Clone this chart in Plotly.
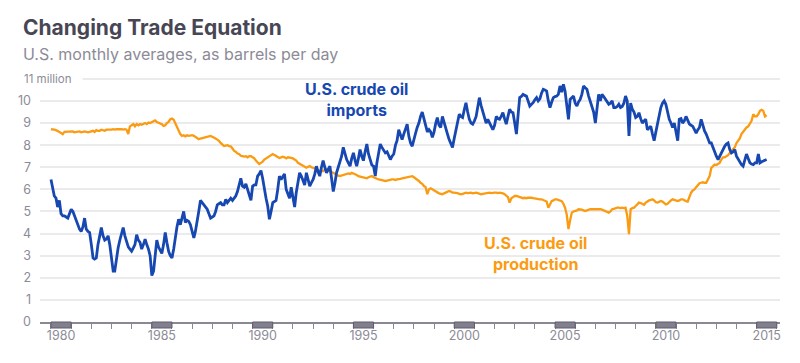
import pandas as pd
import plotly.graph_objects as go

# ---------------- data (million barrels per day, monthly from Jan 1980) ----------------
start_month = "1980-01-01"

imports = [
    6.45, 6.0, 5.7, 5.6, 5.2, 5.5, 4.9, 4.8, 4.8, 4.75, 4.7, 4.9,          # 1980
    5.1, 5.0, 4.8, 4.6, 4.35, 4.2, 4.1, 4.3, 4.7, 4.2, 4.1, 4.05,         # 1981
    3.5, 2.9, 2.85, 2.9, 3.5, 3.9, 4.27, 3.9, 3.7, 3.75, 3.9, 3.5,        # 1982
    2.8, 2.3, 2.3, 2.9, 3.35, 3.7, 4.0, 4.27, 3.9, 3.6, 3.4, 3.3,         # 1983
    3.2, 3.35, 3.5, 3.95, 3.7, 3.6, 3.3, 3.5, 3.75, 3.5, 3.3, 3.0,        # 1984
    2.1, 2.3, 2.9, 3.7, 3.4, 3.2, 3.1, 3.5, 4.05, 3.6, 3.2, 3.0,          # 1985
    2.9, 3.3, 3.9, 4.3, 4.65, 4.4, 4.7, 5.0, 4.5, 4.6, 4.55, 4.4,         # 1986
    4.1, 3.8, 4.1, 4.5, 5.0, 5.5, 5.4, 5.3, 5.2, 5.1, 4.9, 4.7,           # 1987
    4.75, 4.8, 5.0, 5.3, 5.35, 5.4, 5.3, 5.3, 5.55, 5.4, 5.5, 5.6,        # 1988
    5.5, 5.6, 5.7, 5.9, 6.15, 6.5, 6.15, 6.1, 6.25, 6.0, 5.85, 5.5,       # 1989
    6.15, 6.2, 6.2, 6.6, 6.7, 6.85, 6.5, 6.0, 5.6, 5.25, 4.65, 5.0,       # 1990
    5.4, 5.45, 5.5, 6.0, 6.6, 6.45, 6.6, 6.7, 6.0, 5.8, 5.6, 6.1,         # 1991
    5.6, 5.2, 5.85, 6.3, 6.75, 6.6, 6.4, 6.2, 6.75, 6.4, 6.15, 6.3,       # 1992
    6.45, 6.7, 7.05, 6.8, 6.6, 7.0, 7.3, 7.0, 6.75, 6.9, 7.05, 6.5,       # 1993
    5.9, 6.3, 6.75, 7.0, 7.2, 7.5, 7.9, 7.6, 7.35, 7.2, 7.05, 7.4,        # 1994
    7.65, 7.3, 7.05, 7.4, 7.8, 7.5, 7.3, 7.7, 8.05, 7.6, 7.3, 7.1,        # 1995
    7.05, 6.6, 7.2, 7.7, 8.05, 7.9, 7.8, 7.65, 7.7, 7.5, 7.35, 7.5,       # 1996
    7.6, 8.0, 8.2, 8.7, 8.5, 8.25, 8.5, 8.7, 8.95, 8.4, 8.1, 7.95,        # 1997
    8.2, 8.55, 8.8, 9.0, 9.3, 9.5, 9.2, 8.85, 8.6, 8.7, 8.6, 8.35,        # 1998
    8.6, 9.0, 9.25, 8.9, 8.8, 9.3, 9.0, 8.7, 8.5, 8.25, 8.1, 7.9,         # 1999
    8.3, 8.7, 9.0, 9.4, 9.3, 9.25, 9.6, 9.92, 9.5, 9.17, 9.0, 8.95,       # 2000
    9.1, 9.3, 9.7, 10.15, 9.8, 9.55, 9.2, 9.0, 9.17, 9.0, 8.9, 8.7,       # 2001
    8.9, 9.3, 9.2, 9.17, 9.3, 9.47, 9.2, 8.95, 9.3, 9.62, 9.5, 9.47,      # 2002
    9.0, 8.5, 9.3, 10.15, 10.2, 10.3, 10.25, 10.22, 10.0, 9.77, 9.85, 9.92,  # 2003
    10.05, 10.15, 10.0, 10.1, 10.35, 10.53, 10.5, 10.45, 10.0, 9.7, 9.95, 10.15,  # 2004
    10.2, 10.22, 10.3, 10.68, 10.4, 10.75, 10.45, 9.92, 9.17, 10.07, 10.15, 10.22,  # 2005
    9.9, 9.77, 9.95, 10.07, 10.3, 10.68, 10.6, 10.53, 10.22, 10.0, 9.7, 9.5,  # 2006
    9.0, 9.6, 10.3, 10.0, 10.3, 10.2, 10.07, 9.95, 9.85, 9.9, 10.0, 9.7,  # 2007
    9.7, 9.75, 9.85, 9.7, 9.75, 9.9, 10.22, 10.0, 8.42, 9.9, 9.62, 9.5,   # 2008
    9.25, 9.3, 9.47, 9.2, 9.0, 9.1, 9.17, 8.7, 8.8, 8.85, 8.5, 8.2,       # 2009
    8.6, 9.0, 9.3, 9.7, 9.9, 10.0, 9.85, 9.5, 9.17, 9.0, 8.8, 9.0,        # 2010
    8.5, 8.2, 9.17, 9.2, 9.0, 9.1, 9.3, 9.1, 8.95, 8.9, 8.85, 8.7,        # 2011
    8.55, 8.7, 8.8, 9.17, 8.9, 8.64, 8.5, 8.27, 8.1, 8.1, 7.9, 7.65,      # 2012
    7.5, 7.35, 7.5, 7.6, 7.8, 7.95, 8.05, 8.1, 7.8, 7.65, 7.7, 7.8,       # 2013
    7.5, 7.35, 7.2, 7.12, 7.05, 7.3, 7.6, 7.4, 7.2, 7.15, 7.12, 7.2,      # 2014
    7.2, 7.6, 7.2, 7.25, 7.28, 7.3, 7.35,                                 # 2015
]

production = [
    8.72, 8.72, 8.7, 8.68, 8.65, 8.6, 8.55, 8.5, 8.6, 8.6, 8.62, 8.6,     # 1980
    8.6, 8.62, 8.58, 8.6, 8.6, 8.62, 8.58, 8.6, 8.62, 8.6, 8.58, 8.6,     # 1981
    8.62, 8.65, 8.6, 8.68, 8.65, 8.65, 8.7, 8.68, 8.65, 8.7, 8.7, 8.68,   # 1982
    8.7, 8.72, 8.7, 8.72, 8.72, 8.75, 8.72, 8.7, 8.72, 8.7, 8.5, 8.85,    # 1983
    8.9, 8.95, 8.85, 8.95, 8.9, 8.95, 8.92, 8.95, 9.0, 8.95, 9.02, 9.0,   # 1984
    9.05, 9.1, 9.12, 9.05, 9.02, 9.0, 8.95, 8.87, 8.9, 9.0, 9.05, 9.17,   # 1985
    9.2, 9.15, 9.0, 8.8, 8.65, 8.5, 8.42, 8.45, 8.4, 8.45, 8.42, 8.45,    # 1986
    8.45, 8.42, 8.38, 8.3, 8.27, 8.3, 8.32, 8.35, 8.38, 8.4, 8.42, 8.42,  # 1987
    8.38, 8.35, 8.3, 8.25, 8.2, 8.1, 8.05, 7.96, 7.98, 8.0, 7.96, 7.95,   # 1988
    7.85, 7.74, 7.7, 7.62, 7.6, 7.52, 7.5, 7.48, 7.5, 7.45, 7.5, 7.5,     # 1989
    7.45, 7.4, 7.3, 7.2, 7.15, 7.2, 7.25, 7.35, 7.4, 7.45, 7.5, 7.55,     # 1990
    7.6, 7.55, 7.5, 7.45, 7.42, 7.45, 7.48, 7.45, 7.4, 7.45, 7.45, 7.42,  # 1991
    7.4, 7.35, 7.3, 7.2, 7.15, 7.1, 7.05, 7.0, 6.98, 7.02, 7.05, 7.0,     # 1992
    6.98, 6.95, 6.9, 6.85, 6.83, 6.85, 6.82, 6.88, 6.9, 6.85, 6.8, 6.78,  # 1993
    6.75, 6.7, 6.68, 6.62, 6.6, 6.62, 6.65, 6.67, 6.7, 6.72, 6.7, 6.75,   # 1994
    6.72, 6.7, 6.65, 6.6, 6.58, 6.55, 6.55, 6.53, 6.5, 6.55, 6.58, 6.6,   # 1995
    6.55, 6.5, 6.48, 6.45, 6.45, 6.42, 6.4, 6.38, 6.4, 6.42, 6.45, 6.45,  # 1996
    6.45, 6.42, 6.45, 6.45, 6.48, 6.5, 6.52, 6.53, 6.55, 6.58, 6.6, 6.6,  # 1997
    6.55, 6.5, 6.45, 6.38, 6.3, 6.25, 6.15, 6.1, 5.78, 6.0, 6.05, 6.0,    # 1998
    5.95, 5.93, 5.88, 5.82, 5.8, 5.78, 5.82, 5.85, 5.88, 5.93, 5.9, 5.85, # 1999
    5.85, 5.85, 5.83, 5.8, 5.78, 5.8, 5.82, 5.85, 5.83, 5.85, 5.85, 5.82, # 2000
    5.85, 5.85, 5.83, 5.8, 5.78, 5.8, 5.82, 5.83, 5.85, 5.85, 5.83, 5.85, # 2001
    5.85, 5.85, 5.83, 5.85, 5.85, 5.82, 5.78, 5.72, 5.65, 5.4, 5.6, 5.65, # 2002
    5.7, 5.7, 5.68, 5.65, 5.62, 5.6, 5.62, 5.6, 5.62, 5.63, 5.62, 5.6,    # 2003
    5.58, 5.57, 5.56, 5.55, 5.55, 5.52, 5.5, 5.45, 5.17, 5.3, 5.47, 5.5,  # 2004
    5.55, 5.55, 5.52, 5.5, 5.47, 5.35, 5.17, 4.85, 4.2, 4.6, 4.95, 5.0,   # 2005
    5.02, 5.05, 5.1, 5.1, 5.08, 5.05, 5.02, 5.05, 5.08, 5.1, 5.1, 5.1,    # 2006
    5.1, 5.1, 5.12, 5.1, 5.08, 5.05, 5.02, 5.0, 4.95, 5.0, 5.1, 5.12,     # 2007
    5.15, 5.17, 5.17, 5.15, 5.17, 5.15, 5.17, 4.8, 3.97, 5.1, 5.15, 5.17, # 2008
    5.25, 5.35, 5.4, 5.38, 5.32, 5.3, 5.4, 5.47, 5.5, 5.52, 5.55, 5.5,    # 2009
    5.42, 5.4, 5.45, 5.47, 5.45, 5.38, 5.32, 5.35, 5.45, 5.5, 5.55, 5.52, # 2010
    5.5, 5.47, 5.5, 5.55, 5.55, 5.5, 5.47, 5.45, 5.7, 5.85, 5.95, 6.0,    # 2011
    6.1, 6.22, 6.28, 6.3, 6.32, 6.3, 6.3, 6.45, 6.6, 6.97, 7.05, 7.12,    # 2012
    7.1, 7.15, 7.2, 7.35, 7.45, 7.45, 7.5, 7.55, 7.65, 7.75, 7.8, 7.9,    # 2013
    8.1, 8.2, 8.3, 8.5, 8.6, 8.7, 8.8, 8.85, 9.0, 9.1, 9.4, 9.3,          # 2014
    9.3, 9.4, 9.55, 9.6, 9.55, 9.3, 9.35,                                 # 2015
]

label_years = [1980, 1985, 1990, 1995, 2000, 2005, 2010, 2015]
y_ticks = [0, 1, 2, 3, 4, 5, 6, 7, 8, 9, 10, 11]
y_ticktext = ["0", "1", "2", "3", "4", "5", "6", "7", "8", "9", "10", ""]

# ---------------- styling ----------------
OFF = 8                      # page body margin offset
W, H = 800 - OFF, 363 - OFF
ML, MR, MT, MB = 40 - OFF, 20, 70 - OFF, 363 - 322
FONT = "Inter, Roboto, Arial, sans-serif"
BLUE = "#1747b0"
ORANGE = "#fb9b12"
GRID = "#ebebee"
AXIS = "#8a8894"
TICKTXT = "#8c8b97"

def px_x(x):  # screen x of the reference -> paper coordinate
    return (x - OFF - ML) / (W - ML - MR)

def px_y(y):  # screen y of the reference -> paper coordinate
    return (H - MB - (y - OFF)) / (H - MT - MB)

dates_imp = pd.date_range(start_month, periods=len(imports), freq="MS")
dates_prod = pd.date_range(start_month, periods=len(production), freq="MS")

fig = go.Figure()
fig.add_trace(go.Scatter(x=dates_prod, y=production, mode="lines",
                         line=dict(color=ORANGE, width=2.3), hoverinfo="skip",
                         showlegend=False))
fig.add_trace(go.Scatter(x=dates_imp, y=imports, mode="lines",
                         line=dict(color=BLUE, width=2.8), hoverinfo="skip",
                         showlegend=False))

# gray year boxes under the axis for labelled years
for yr in label_years:
    fig.add_shape(type="rect", xref="x", yref="paper",
                  x0=f"{yr}-01-01", x1=f"{yr + 1}-01-01",
                  y0=px_y(322), y1=px_y(328),
                  fillcolor="#82808f", line=dict(color="#5f5d6b", width=1),
                  layer="above")

fig.update_layout(
    width=W, height=H,
    margin=dict(l=ML, r=MR, t=MT, b=MB, autoexpand=False),
    paper_bgcolor="white", plot_bgcolor="white",
    font=dict(family=FONT, color=TICKTXT, size=12),
    showlegend=False,
    xaxis=dict(
        type="date",
        range=["1979-06-16", "2016-02-28"],
        tickmode="array",
        tickvals=[f"{y}-07-02" for y in label_years],
        ticktext=[str(y) for y in label_years],
        ticks="",
        ticklabelstandoff=1,
        tickfont=dict(size=12.5, color=TICKTXT, family=FONT),
        showgrid=False,
        showline=True, linecolor=AXIS, linewidth=1.5,
        zeroline=False,
        minor=dict(dtick="M12", tick0="1980-01-01", ticks="outside",
                   ticklen=5, tickcolor=AXIS, tickwidth=1, showgrid=False),
    ),
    yaxis=dict(
        range=[0, 11.4],
        tickmode="array",
        tickvals=y_ticks,
        ticktext=y_ticktext,
        showgrid=True, gridcolor=GRID, gridwidth=1.5,
        zeroline=False, showline=False,
        ticks="",
        ticklabelstandoff=8,
        tickfont=dict(size=12.5, color=TICKTXT, family=FONT),
    ),
)

ann = []
ann.append(dict(text="<b>Changing Trade Equation</b>", x=px_x(21), y=px_y(28),
                xref="paper", yref="paper", xanchor="left", yanchor="middle",
                showarrow=False, font=dict(size=21, color="#474655", family=FONT)))
ann.append(dict(text="U.S. monthly averages, as barrels per day", x=px_x(21), y=px_y(54),
                xref="paper", yref="paper", xanchor="left", yanchor="middle",
                showarrow=False, font=dict(size=16, color="#8c8b96", family=FONT)))
ann.append(dict(text="11 million", x=px_x(22), y=px_y(79),
                xref="paper", yref="paper", xanchor="left", yanchor="middle",
                showarrow=False, bgcolor="white", width=57, align="left", borderpad=1,
                font=dict(size=11.5, color=TICKTXT, family=FONT)))
ann.append(dict(text="<b>U.S. crude oil<br>imports</b>", x=px_x(356), y=px_y(99.5),
                xref="paper", yref="paper", xanchor="center", yanchor="middle",
                align="center", showarrow=False,
                font=dict(size=16, color=BLUE, family=FONT)))
ann.append(dict(text="<b>U.S. crude oil<br>production</b>", x=px_x(535), y=px_y(253),
                xref="paper", yref="paper", xanchor="center", yanchor="middle",
                align="center", showarrow=False,
                font=dict(size=16, color=ORANGE, family=FONT)))
fig.update_layout(annotations=ann)

fig.write_html("out.html")
